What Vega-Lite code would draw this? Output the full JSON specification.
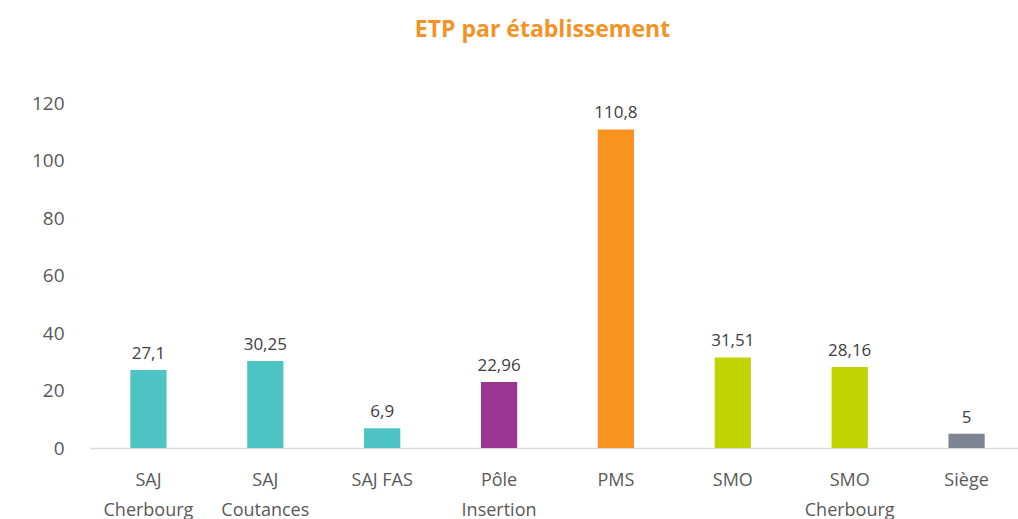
{
  "$schema": "https://vega.github.io/schema/vega-lite/v6.json",
  "autosize": "none",
  "width": 935,
  "height": 345,
  "padding": {"left": 90, "top": 103, "right": 0, "bottom": 71},
  "background": "white",
  "config": {
    "locale": {"number": {"decimal": ",", "thousands": " ", "grouping": [3], "currency": ["", " €"]}},
    "view": {"stroke": null},
    "font": "Open Sans"
  },
  "title": {
    "text": "ETP par établissement",
    "color": "#F39325",
    "fontSize": 23,
    "fontWeight": "bold",
    "font": "Open Sans",
    "anchor": "middle",
    "frame": "group",
    "dx": -15,
    "offset": 52
  },
  "data": {
    "values": [
      {"site": "SAJ Cherbourg", "etp": 27.1, "groupe": "SAJ"},
      {"site": "SAJ Coutances", "etp": 30.25, "groupe": "SAJ"},
      {"site": "SAJ FAS", "etp": 6.9, "groupe": "SAJ"},
      {"site": "Pôle Insertion", "etp": 22.96, "groupe": "Pôle"},
      {"site": "PMS", "etp": 110.8, "groupe": "PMS"},
      {"site": "SMO", "etp": 31.51, "groupe": "SMO"},
      {"site": "SMO Cherbourg", "etp": 28.16, "groupe": "SMO"},
      {"site": "Siège", "etp": 5, "groupe": "Siège"}
    ]
  },
  "encoding": {
    "x": {
      "field": "site",
      "type": "nominal",
      "sort": null,
      "scale": {"paddingInner": 0.69, "paddingOuter": 0.345},
      "axis": {
        "title": null,
        "labelAngle": 0,
        "labelFontSize": 18,
        "labelColor": "#595959",
        "labelFont": "Open Sans",
        "labelPadding": 23,
        "labelLineHeight": 30,
        "ticks": false,
        "domainColor": "#D9D9D9",
        "domainWidth": 1.5,
        "labelExpr": "datum.label == 'SAJ FAS' ? datum.label : split(datum.label, ' ')"
      }
    },
    "y": {
      "field": "etp",
      "type": "quantitative",
      "scale": {"domain": [0, 120], "nice": false},
      "axis": {
        "title": null,
        "values": [0, 20, 40, 60, 80, 100, 120],
        "grid": false,
        "domain": false,
        "ticks": false,
        "labelFontSize": 19,
        "labelColor": "#595959",
        "labelFont": "Open Sans",
        "labelPadding": 26
      }
    }
  },
  "layer": [
    {
      "mark": {"type": "bar"},
      "encoding": {
        "color": {
          "field": "groupe",
          "type": "nominal",
          "scale": {
            "domain": ["SAJ", "Pôle", "PMS", "SMO", "Siège"],
            "range": ["#4DC3C4", "#9A3592", "#F7931E", "#BFD400", "#7E8491"]
          },
          "legend": null
        }
      }
    },
    {
      "mark": {"type": "text", "dy": -16, "fontSize": 17, "color": "#404040", "font": "Open Sans"},
      "encoding": {
        "text": {"field": "etp", "type": "quantitative", "format": "~g"}
      }
    }
  ]
}
